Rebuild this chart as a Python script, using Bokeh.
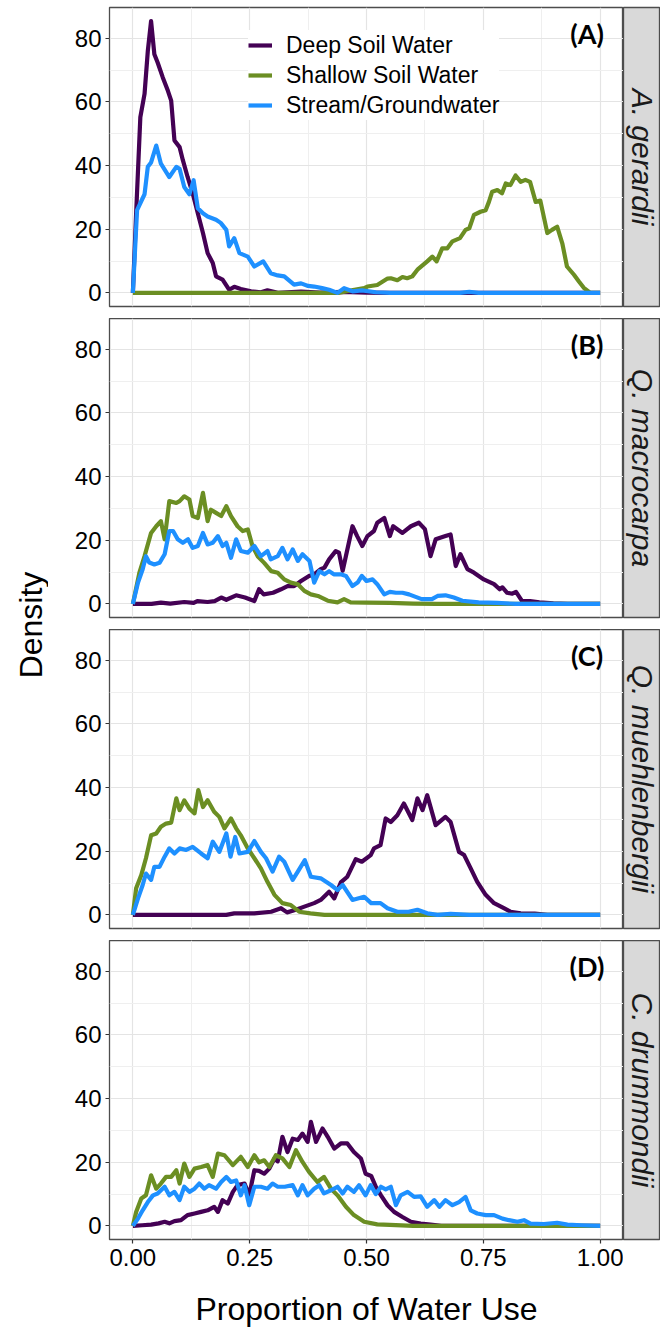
import math
from bokeh.plotting import figure
from bokeh.models import Range1d, FixedTicker, NumeralTickFormatter, Label
from bokeh.layouts import row, column
from bokeh.embed import file_html
from bokeh.resources import INLINE

# ---------------- data ----------------
series_names = ["Deep Soil Water", "Shallow Soil Water", "Stream/Groundwater"]
series_colors = ["#440154", "#6B8E23", "#1E90FF"]
species = ["A. gerardii", "Q. macrocarpa", "Q. muehlenbergii", "C. drummondii"]
tags = ["(A)", "(B)", "(C)", "(D)"]
x_ticks = [0.0, 0.25, 0.5, 0.75, 1.0]
x_minor = [0.125, 0.375, 0.625, 0.875]
y_ticks = [0, 20, 40, 60, 80]
y_minor = [10, 30, 50, 70]

# Panel A
a_deep_x = [0, 0.007, 0.016, 0.025, 0.032, 0.039, 0.046, 0.053, 0.064, 0.075, 0.082, 0.089, 0.1, 0.107, 0.117, 0.128, 0.139, 0.15, 0.16, 0.171, 0.178, 0.192, 0.206, 0.217, 0.231, 0.253, 0.274, 0.288, 0.31, 0.36, 0.4, 0.45, 0.5, 0.55, 1.0]
a_deep_y = [0, 25, 55.2, 62.5, 76, 85.4, 75, 72.4, 67.7, 63.5, 60.4, 47.9, 45.8, 41.7, 36.5, 31.3, 25, 18.8, 12.5, 9.4, 5.2, 4.2, 1, 1.9, 1.2, 0.5, 0.2, 0.8, 0, 0.4, 0.1, 0.3, 0.1, 0, 0]
a_shal_x = [0, 0.44, 0.474, 0.495, 0.502, 0.523, 0.545, 0.552, 0.566, 0.577, 0.587, 0.598, 0.609, 0.63, 0.641, 0.65, 0.662, 0.673, 0.684, 0.7, 0.712, 0.72, 0.73, 0.744, 0.755, 0.762, 0.769, 0.78, 0.79, 0.798, 0.808, 0.819, 0.83, 0.84, 0.85, 0.862, 0.872, 0.887, 0.897, 0.908, 0.919, 0.929, 0.944, 0.955, 0.965, 0.979, 1.0]
a_shal_y = [0, 0, 1, 1.5, 2, 2.5, 4.5, 4.6, 4, 5, 4.6, 5.2, 7.3, 9.9, 11.4, 9.9, 14, 14, 16.2, 17.2, 19.8, 20.3, 24.5, 25.5, 26, 28.6, 31.8, 32.3, 31.3, 34.4, 33.9, 36.9, 34.9, 35.5, 34.9, 28.6, 29, 18.8, 19.8, 20.8, 15.6, 8.3, 5.7, 3.5, 1.6, 0, 0]
a_strm_x = [0, 0.009, 0.025, 0.032, 0.039, 0.05, 0.06, 0.078, 0.093, 0.1, 0.11, 0.121, 0.13, 0.139, 0.15, 0.16, 0.178, 0.188, 0.2, 0.206, 0.217, 0.228, 0.246, 0.26, 0.279, 0.295, 0.31, 0.324, 0.345, 0.36, 0.375, 0.388, 0.405, 0.42, 0.438, 0.452, 0.47, 0.49, 0.52, 0.55, 0.7, 0.72, 0.74, 1.0]
a_strm_y = [0, 26, 31, 39.6, 41, 46.3, 40.6, 36.4, 39.6, 39, 33.3, 31, 35.4, 26.6, 25, 24, 23, 22, 19.8, 14.6, 17.2, 12.5, 11.4, 8.3, 9.9, 6.2, 5.5, 5.2, 2.6, 3, 2.2, 2, 1.5, 1, 0, 1.5, 0.5, 0.8, 0.2, 0, 0, 0.3, 0, 0]

# Panel B
b_deep_x = [0, 0.04, 0.06, 0.08, 0.11, 0.13, 0.138, 0.16, 0.175, 0.189, 0.2, 0.221, 0.24, 0.26, 0.27, 0.28, 0.3, 0.317, 0.331, 0.345, 0.36, 0.377, 0.388, 0.402, 0.41, 0.42, 0.434, 0.441, 0.449, 0.47, 0.48, 0.491, 0.502, 0.516, 0.523, 0.538, 0.55, 0.557, 0.577, 0.595, 0.612, 0.625, 0.637, 0.648, 0.669, 0.68, 0.691, 0.701, 0.716, 0.73, 0.751, 0.773, 0.785, 0.791, 0.801, 0.812, 0.82, 0.833, 0.85, 0.87, 0.9, 0.93, 1.0]
b_deep_y = [0, 0, 0.4, 0.1, 0.6, 0.3, 0.9, 0.6, 0.9, 2, 1.3, 2.7, 2, 0.9, 4.6, 3, 3.5, 4.6, 5.6, 5.6, 7.2, 8.8, 9.3, 10.9, 11.4, 14, 16.6, 16.1, 10.4, 24.4, 21.3, 18.2, 21.3, 22.9, 25.5, 27, 21.3, 24.4, 22.3, 24.4, 25.5, 23.5, 15, 20.3, 21.3, 21.8, 11.9, 15.6, 10.9, 9.8, 7.7, 6.2, 4.6, 5.2, 3.5, 3.2, 3.8, 0.9, 0.9, 0.5, 0.2, 0, 0]
b_shal_x = [0, 0.014, 0.025, 0.039, 0.05, 0.06, 0.068, 0.078, 0.093, 0.1, 0.11, 0.121, 0.128, 0.139, 0.15, 0.16, 0.167, 0.178, 0.189, 0.2, 0.21, 0.224, 0.235, 0.246, 0.256, 0.267, 0.281, 0.296, 0.31, 0.324, 0.338, 0.353, 0.367, 0.381, 0.396, 0.417, 0.438, 0.452, 0.466, 0.5, 0.55, 0.6, 0.65, 1.0]
b_shal_y = [0, 9.8, 15, 22.3, 24.4, 26, 20.3, 32.3, 31.7, 32.3, 33.8, 32.8, 27.6, 27, 34.9, 26, 29.6, 28.6, 27.6, 30.7, 27.6, 24.4, 22.9, 23.4, 18.2, 15, 12.9, 10.3, 9.8, 7.7, 6.7, 6.2, 4.1, 3, 2.5, 1, 0.5, 1.5, 0.5, 0.4, 0.3, 0.1, 0, 0]
b_strm_x = [0, 0.011, 0.021, 0.028, 0.035, 0.046, 0.057, 0.068, 0.078, 0.086, 0.096, 0.107, 0.118, 0.128, 0.139, 0.15, 0.16, 0.171, 0.182, 0.192, 0.2, 0.21, 0.221, 0.231, 0.246, 0.26, 0.274, 0.288, 0.295, 0.31, 0.32, 0.331, 0.342, 0.353, 0.363, 0.378, 0.388, 0.399, 0.41, 0.42, 0.43, 0.445, 0.456, 0.47, 0.481, 0.49, 0.5, 0.513, 0.523, 0.538, 0.55, 0.563, 0.577, 0.591, 0.618, 0.64, 0.652, 0.669, 0.687, 0.705, 0.74, 0.78, 0.82, 1.0]
b_strm_y = [0, 6.7, 10.9, 15, 13, 12.4, 12.9, 15.6, 22.9, 22.9, 20.3, 19.2, 20.3, 17.6, 18.2, 22.3, 18.7, 19.2, 21.3, 18.2, 19.2, 14.5, 20.3, 16.6, 16.1, 18.2, 15, 16.6, 14, 15, 17.6, 14, 17.1, 13.5, 15.6, 13.5, 6.7, 10.3, 9.3, 10.3, 9.3, 9.3, 8.8, 5.6, 6.7, 8.8, 7.2, 7.7, 6.2, 3, 3.8, 3.5, 3.5, 3, 1.5, 1.5, 2.5, 2.7, 2, 1, 0.5, 0.3, 0, 0]

# Panel C
c_deep_x = [0, 0.2, 0.217, 0.26, 0.296, 0.317, 0.33, 0.349, 0.367, 0.388, 0.402, 0.42, 0.431, 0.445, 0.459, 0.477, 0.49, 0.509, 0.516, 0.53, 0.541, 0.552, 0.566, 0.58, 0.598, 0.609, 0.62, 0.63, 0.648, 0.669, 0.68, 0.698, 0.709, 0.723, 0.737, 0.755, 0.773, 0.794, 0.808, 0.83, 0.86, 0.887, 1.0]
c_deep_y = [0, 0, 0.5, 0.5, 1, 2.1, 0.8, 1.6, 2.6, 3.7, 4.7, 7.3, 5.2, 10.2, 12, 17.5, 16.7, 18.8, 20.9, 21.9, 30.3, 29.2, 31.3, 35, 29.8, 36.6, 32.9, 37.6, 28.2, 30.8, 29.2, 19.8, 18.8, 14.6, 10.4, 6.3, 3.7, 2.1, 1, 0.5, 0.4, 0, 0]
c_shal_x = [0, 0.007, 0.018, 0.028, 0.039, 0.05, 0.06, 0.071, 0.082, 0.093, 0.1, 0.11, 0.121, 0.132, 0.14, 0.15, 0.16, 0.174, 0.185, 0.196, 0.21, 0.221, 0.231, 0.246, 0.26, 0.274, 0.288, 0.303, 0.32, 0.338, 0.356, 0.38, 0.41, 1.0]
c_shal_y = [0, 8.4, 12.5, 17.8, 25, 25.6, 27.7, 28.7, 29, 36.6, 32.9, 36, 33.4, 31.9, 39.2, 33.9, 36, 32.4, 30.8, 27.2, 30.3, 27.2, 25, 20.9, 17.8, 14.6, 10.4, 6.3, 3.7, 3.1, 1, 0.5, 0, 0]
c_strm_x = [0, 0.011, 0.021, 0.028, 0.039, 0.046, 0.057, 0.068, 0.078, 0.089, 0.1, 0.114, 0.128, 0.146, 0.16, 0.171, 0.185, 0.2, 0.209, 0.219, 0.228, 0.246, 0.26, 0.274, 0.285, 0.299, 0.313, 0.324, 0.342, 0.353, 0.368, 0.381, 0.402, 0.424, 0.438, 0.449, 0.47, 0.495, 0.51, 0.53, 0.545, 0.566, 0.59, 0.609, 0.63, 0.652, 0.68, 0.72, 1.0]
c_strm_y = [0, 5.2, 9.4, 13, 11, 15.1, 15.1, 18.3, 20.9, 19.3, 20.9, 20.4, 21.4, 19.3, 17.8, 23, 19.8, 25.6, 18.3, 24.5, 19.3, 19.8, 23.2, 19.8, 17.8, 13.6, 18.3, 16.7, 11, 13.6, 17.2, 12, 11.5, 9.4, 7.8, 9.4, 4.7, 5.7, 3.7, 3.7, 2.1, 1, 1, 1.6, 0.5, 0, 0.3, 0, 0]

# Panel D
d_deep_x = [0, 0.02, 0.039, 0.055, 0.068, 0.078, 0.089, 0.103, 0.117, 0.132, 0.146, 0.16, 0.174, 0.182, 0.192, 0.203, 0.214, 0.224, 0.239, 0.249, 0.26, 0.27, 0.281, 0.292, 0.303, 0.31, 0.32, 0.331, 0.342, 0.353, 0.363, 0.374, 0.381, 0.392, 0.406, 0.417, 0.431, 0.445, 0.459, 0.473, 0.488, 0.498, 0.51, 0.52, 0.531, 0.545, 0.559, 0.577, 0.595, 0.616, 0.637, 0.66, 1.0]
d_deep_y = [0, 0.2, 0.4, 0.8, 1.3, 0.8, 1.5, 1.8, 3.4, 3.9, 4.4, 4.9, 6, 4.4, 8.1, 7, 10.7, 12.8, 13.3, 9.6, 17.5, 17.3, 16.4, 18, 21.2, 20.3, 28, 23.2, 27.4, 27, 29, 26.4, 32.7, 26.4, 30.6, 28, 24.3, 25.9, 25.9, 23.2, 21.2, 16.4, 15.7, 12.3, 9.6, 6.5, 4.4, 2.8, 1.3, 0.7, 0.4, 0, 0]
d_shal_x = [0, 0.007, 0.018, 0.028, 0.039, 0.05, 0.06, 0.071, 0.082, 0.093, 0.1, 0.11, 0.121, 0.132, 0.146, 0.16, 0.171, 0.182, 0.196, 0.214, 0.231, 0.246, 0.26, 0.27, 0.281, 0.292, 0.306, 0.32, 0.335, 0.349, 0.363, 0.377, 0.395, 0.409, 0.424, 0.438, 0.456, 0.473, 0.495, 0.523, 0.55, 0.6, 1.0]
d_shal_y = [0, 4.4, 8.6, 9.6, 15.9, 11.7, 13.3, 15.4, 15.4, 17.5, 13.3, 19.6, 15.4, 18, 18.5, 19.1, 15.4, 22.7, 22.2, 19.1, 21.7, 18.5, 22.2, 20, 20.6, 18.5, 22.2, 21.2, 18.5, 23.8, 20.1, 17, 13.8, 15.4, 11.7, 9.6, 6, 3.4, 1.3, 0.5, 0.3, 0, 0]
d_strm_x = [0, 0.011, 0.021, 0.032, 0.043, 0.053, 0.068, 0.078, 0.089, 0.1, 0.11, 0.121, 0.132, 0.142, 0.153, 0.163, 0.178, 0.189, 0.2, 0.21, 0.221, 0.231, 0.239, 0.249, 0.26, 0.274, 0.288, 0.299, 0.31, 0.325, 0.342, 0.353, 0.363, 0.374, 0.388, 0.399, 0.409, 0.424, 0.438, 0.449, 0.459, 0.473, 0.484, 0.498, 0.509, 0.52, 0.531, 0.541, 0.552, 0.563, 0.573, 0.588, 0.602, 0.616, 0.63, 0.645, 0.656, 0.669, 0.684, 0.698, 0.712, 0.723, 0.737, 0.755, 0.773, 0.791, 0.805, 0.823, 0.837, 0.851, 0.88, 0.908, 0.93, 0.96, 1.0]
d_strm_y = [0, 2.3, 4.9, 7.5, 9.6, 10.2, 12.3, 9.6, 10.7, 8.1, 12.3, 10.7, 11.7, 13.3, 11.7, 12.8, 11.7, 13.8, 15.4, 13.8, 14.3, 9.6, 12.8, 6.5, 12.3, 12.3, 11.7, 13.3, 12.3, 12.3, 12.8, 9.6, 12.8, 9.6, 11.7, 12.8, 10.2, 11.2, 12.3, 10.2, 12.3, 10.7, 12.8, 9.6, 12.8, 10, 12.3, 11.5, 12.3, 6.5, 9.6, 10.7, 9.1, 9.3, 6, 8.1, 6, 8.1, 6.5, 7.5, 9.1, 4.9, 3.9, 3.4, 3.4, 2.3, 1.8, 1.3, 1.8, 0.7, 0.6, 1, 0.4, 0.2, 0]

panel_data = [
    [(a_deep_x, a_deep_y), (a_shal_x, a_shal_y), (a_strm_x, a_strm_y)],
    [(b_deep_x, b_deep_y), (b_shal_x, b_shal_y), (b_strm_x, b_strm_y)],
    [(c_deep_x, c_deep_y), (c_shal_x, c_shal_y), (c_strm_x, c_strm_y)],
    [(d_deep_x, d_deep_y), (d_shal_x, d_shal_y), (d_strm_x, d_strm_y)],
]

# ---------------- layout constants ----------------
FONT = "Liberation Sans"
MAIN_W = 575
STRIP_W = 37
LEFT_W = 48
FRAME_H = 299
GAP = 12
TOP_PAD = 7
BOTTOM_BORDER = 94
heights = [TOP_PAD + FRAME_H + GAP, FRAME_H + GAP, FRAME_H + GAP, FRAME_H + BOTTOM_BORDER]
tops = [TOP_PAD, 0, 0, 0]
bottoms = [GAP, GAP, GAP, BOTTOM_BORDER]
TOTAL_H = sum(heights)

x_range = Range1d(-0.05, 1.05)

rows = []
for i in range(4):
    bottom = (i == 3)
    h = heights[i]
    p = figure(width=MAIN_W, height=h, x_range=x_range, y_range=Range1d(-4.27, 89.67),
               output_backend="svg", toolbar_location=None,
               min_border_left=61, min_border_right=0, min_border_top=tops[i],
               min_border_bottom=bottoms[i],
               background_fill_color="white", border_fill_color="white",
               outline_line_color="#4D4D4D", outline_line_width=1.3)
    xt = FixedTicker(ticks=x_ticks, minor_ticks=x_minor)
    yt = FixedTicker(ticks=y_ticks, minor_ticks=y_minor)
    p.xaxis.ticker = xt
    p.yaxis.ticker = yt
    p.xgrid.ticker = xt
    p.ygrid.ticker = yt
    for g in (p.xgrid, p.ygrid):
        g.grid_line_color = "#E4E4E4"
        g.grid_line_width = 1.2
        g.minor_grid_line_color = "#EFEFEF"
        g.minor_grid_line_width = 1
    for ax in (p.xaxis, p.yaxis):
        ax.axis_line_color = None
        ax.major_tick_line_color = "#333333"
        ax.major_tick_line_width = 1.2
        ax.major_tick_out = 4
        ax.major_tick_in = 0
        ax.minor_tick_line_color = None
        ax.major_label_text_font = FONT
        ax.major_label_text_font_size = "24px"
        ax.major_label_text_color = "black"
    p.yaxis.major_label_standoff = 4
    if bottom:
        p.xaxis.formatter = NumeralTickFormatter(format="0.00")
        p.xaxis.major_label_standoff = 5
        p.xaxis.axis_label = "Proportion of Water Use"
        p.xaxis.axis_label_text_font = FONT
        p.xaxis.axis_label_text_font_size = "32px"
        p.xaxis.axis_label_text_font_style = "normal"
        p.xaxis.axis_label_text_color = "black"
        p.xaxis.axis_label_standoff = 22
    else:
        p.xaxis.visible = False

    for (xs, ys), name, col in zip(panel_data[i], series_names, series_colors):
        if i == 0:
            p.line(xs, ys, line_color=col, line_width=4.2, line_join="round", legend_label=name)
        else:
            p.line(xs, ys, line_color=col, line_width=4.2, line_join="round")

    p.add_layout(Label(x=0.972, y=81.6, text=tags[i], text_font="Lato", text_font_style="bold",
                       text_font_size="27px", text_align="center", text_baseline="middle",
                       text_color="black"))

    if i == 0:
        lg = p.legend[0]
        lg.location = (139, 186)
        lg.background_fill_color = "white"
        lg.background_fill_alpha = 1
        lg.border_line_color = None
        lg.padding = 6
        lg.spacing = 0
        lg.margin = 0
        lg.glyph_width = 24
        lg.glyph_height = 30
        lg.label_height = 30
        lg.label_standoff = 14
        lg.label_text_font = FONT
        lg.label_text_font_size = "23px"
        lg.label_text_color = "black"

    s = figure(width=STRIP_W, height=h, x_range=Range1d(0, 1), y_range=Range1d(0, 1),
               x_axis_location=None, y_axis_location=None, output_backend="svg",
               toolbar_location=None, min_border_left=0, min_border_right=0,
               min_border_top=tops[i], min_border_bottom=bottoms[i],
               background_fill_color="#D9D9D9", border_fill_color="white",
               outline_line_color="#4D4D4D", outline_line_width=1.3)
    s.grid.visible = False
    s.add_layout(Label(x=0.5, y=0.5, text=species[i], angle=-math.pi / 2,
                       text_align="center", text_baseline="middle", text_font=FONT,
                       text_font_style="italic", text_font_size="30px", text_color="#1A1A1A"))
    rows.append(row(p, s))

left = figure(width=LEFT_W, height=TOTAL_H, x_range=Range1d(0, LEFT_W), y_range=Range1d(0, TOTAL_H),
              x_axis_location=None, y_axis_location=None, output_backend="svg",
              toolbar_location=None, min_border_left=0, min_border_right=0,
              min_border_top=0, min_border_bottom=0, outline_line_color=None,
              background_fill_color="white", border_fill_color="white")
left.grid.visible = False
left.add_layout(Label(x=30, y=TOTAL_H - 624.5, text="Density", angle=math.pi / 2,
                      text_align="center", text_baseline="middle", text_font=FONT,
                      text_font_size="32px", text_color="black"))

layout = row(left, column(*rows))
open("out.html", "w").write(file_html(layout, INLINE))
